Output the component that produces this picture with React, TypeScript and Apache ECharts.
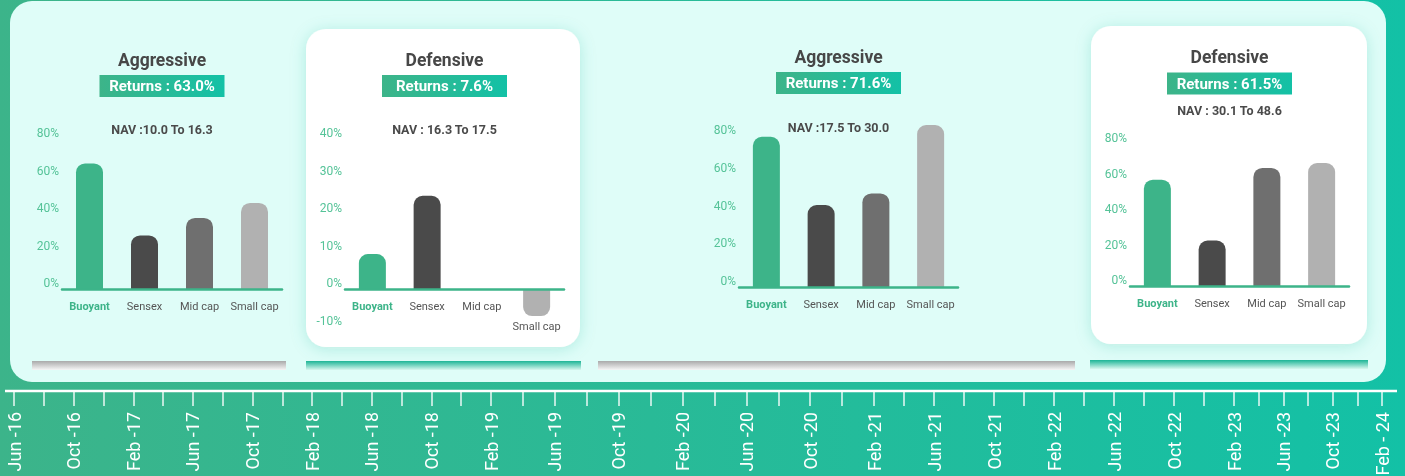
import React, { useEffect, useRef } from 'react';
import * as echarts from 'echarts';

// ---------- data ----------
const categories = ['Buoyant', 'Sensex', 'Mid cap', 'Small cap'];
const panelTitles = ['Aggressive', 'Defensive', 'Aggressive', 'Defensive'];
const returnsPct = [63.0, 7.6, 71.6, 61.5];
const navLabels = ['NAV :10.0 To 16.3', 'NAV : 16.3 To 17.5', 'NAV :17.5 To 30.0', 'NAV : 30.1 To 48.6'];
const panel1Values = [67.0, 28.6, 37.9, 45.9];
const panel2Values = [9.4, 24.9, 0, -7.1];
const panel3Values = [79.6, 43.4, 49.6, 85.8];
const panel4Values = [59.9, 25.6, 66.5, 69.3];
const panelValues = [panel1Values, panel2Values, panel3Values, panel4Values];
const yMin = [0, -10, 0, 0];
const yMax = [80, 40, 80, 80];
const yStep = [20, 10, 20, 20];
const timelineLabels = [
  'Jun -16', 'Oct -16', 'Feb -17', 'Jun -17', 'Oct -17', 'Feb -18', 'Jun -18', 'Oct -18',
  'Feb -19', 'Jun -19', 'Oct -19', 'Feb -20', 'Jun -20', 'Oct -20', 'Feb -21', 'Jun -21',
  'Oct -21', 'Feb -22', 'Jun -22', 'Oct -22', 'Feb -23', 'Jun -23', 'Oct -23', 'Feb - 24',
];
// months since Jun-16 where the timeline segments join
const timelineBreaks = [0, 32, 56, 80, 92];

// ---------- layout / style ----------
const W = 1405;
const H = 476;
const panelGrids = [
  { left: 62, top: 139, width: 220, height: 150 },
  { left: 345, top: 139, width: 219, height: 188 },
  { left: 739, top: 136, width: 219, height: 151 },
  { left: 1130, top: 144, width: 219, height: 142 },
];
const heads = [
  { cx: 162, title: 60, ret: 86, nav: 129.5 },
  { cx: 444.5, title: 59.5, ret: 86, nav: 129.5 },
  { cx: 838.5, title: 57, ret: 83, nav: 127 },
  { cx: 1229.5, title: 57, ret: 83.5, nav: 110 },
];
const cards = [
  { x: 306, y: 29, w: 274, h: 318 },
  { x: 1091, y: 26, w: 276, h: 318 },
];
const footBars = [
  { x: 32, y: 361, w: 254, kind: 'gray' },
  { x: 306, y: 361, w: 275, kind: 'teal' },
  { x: 598, y: 361, w: 477, kind: 'gray' },
  { x: 1090, y: 360, w: 278, kind: 'teal' },
];
const timelinePx = [14, 491, 874, 1234, 1382];
const barColors = ['#3db489', '#4a4a4a', '#6f6f6f', '#b1b1b1'];
const GREEN = '#3db489';
const FONT = 'Roboto, "Noto Sans", sans-serif';

function buildOption() {
  const LG = echarts.graphic.LinearGradient;
  const grid: any[] = [];
  const xAxis: any[] = [];
  const yAxis: any[] = [];
  const series: any[] = [];

  panelGrids.forEach((g, i) => {
    const vals = panelValues[i];
    // move the category axis up to the zero line when the scale goes below zero
    const zeroOffset = -((0 - yMin[i]) / (yMax[i] - yMin[i])) * g.height;
    grid.push({ ...g, containLabel: false, outerBoundsMode: 'none' });
    xAxis.push({
      type: 'category',
      gridIndex: i,
      data: categories,
      position: 'bottom',
      offset: zeroOffset,
      z: 8,
      axisLine: { show: true, onZero: false, lineStyle: { color: GREEN, width: 2.5 } },
      axisTick: { show: false },
      axisLabel: {
        margin: 12,
        interval: 0,
        formatter: (v: string, idx: number) => {
          if (idx === 0) return `{b|${v}}`;
          return vals[idx] < 0 ? `{neg|${v}}` : `{n|${v}}`;
        },
        rich: {
          b: { color: GREEN, fontWeight: 'bold', fontSize: 11, fontFamily: FONT },
          n: { color: '#555555', fontSize: 11, fontFamily: FONT },
          neg: { color: '#555555', fontSize: 11, fontFamily: FONT, padding: [20, 0, 0, 0] },
        },
      },
    });
    yAxis.push({
      type: 'value',
      gridIndex: i,
      min: yMin[i],
      max: yMax[i],
      interval: yStep[i],
      z: 8,
      axisLine: { show: false },
      axisTick: { show: false },
      splitLine: { show: false },
      axisLabel: {
        formatter: '{value}%',
        color: '#55c398',
        fontSize: 12,
        fontFamily: FONT,
        margin: 3,
        verticalAlign: 'bottom',
      },
    });
    series.push({
      type: 'bar',
      xAxisIndex: i,
      yAxisIndex: i,
      barWidth: 27,
      clip: false,
      z: 6,
      data: vals.map((v, k) => ({
        value: v,
        itemStyle: {
          color: barColors[k],
          borderRadius: v < 0 ? [0, 0, 9, 9] : [9, 9, 0, 0],
        },
      })),
    });
  });

  // timeline segments
  for (let s = 0; s < timelineBreaks.length - 1; s++) {
    const gi = grid.length;
    grid.push({
      left: timelinePx[s],
      width: timelinePx[s + 1] - timelinePx[s],
      top: 380,
      height: 11,
      containLabel: false,
      outerBoundsMode: 'none',
    });
    xAxis.push({
      type: 'value',
      gridIndex: gi,
      min: timelineBreaks[s],
      max: timelineBreaks[s + 1],
      interval: 2,
      z: 8,
      axisLine: { show: false },
      splitLine: { show: false },
      axisTick: { show: true, length: 15, lineStyle: { color: 'rgba(255,255,255,0.9)', width: 1.5 } },
      axisLabel: {
        showMinLabel: s === 0,
        showMaxLabel: true,
        rotate: 90,
        margin: 21,
        color: '#ffffff',
        fontSize: 18,
        fontFamily: FONT,
        formatter: (v: number) => {
          const m = Math.round(v);
          return m % 4 === 0 ? timelineLabels[m / 4] || '' : '';
        },
      },
    });
    yAxis.push({ type: 'value', gridIndex: gi, show: false });
  }

  const graphics: any[] = [];
  graphics.push({
    type: 'rect', z: -10, silent: true,
    shape: { x: 0, y: 0, width: W, height: H },
    style: { fill: new LG(0, 0, 1, 0, [{ offset: 0, color: '#3cb48a' }, { offset: 1, color: '#13c1a6' }]) },
  });
  graphics.push({
    type: 'rect', z: -9, silent: true,
    shape: { x: 10, y: 1, width: 1376, height: 381, r: 22 },
    style: { fill: '#dffdf8' },
  });
  cards.forEach((c) => {
    graphics.push({
      type: 'rect', z: -8, silent: true,
      shape: { x: c.x, y: c.y, width: c.w, height: c.h, r: 20 },
      style: { fill: '#ffffff', shadowBlur: 16, shadowColor: 'rgba(40,170,140,0.22)', shadowOffsetY: 2 },
    });
  });
  footBars.forEach((b) => {
    const stops = b.kind === 'gray'
      ? [{ offset: 0, color: '#aaaaaa' }, { offset: 1, color: '#f6f6f6' }]
      : [{ offset: 0, color: '#1db596' }, { offset: 1, color: '#d8f7ef' }];
    graphics.push({
      type: 'rect', z: -7, silent: true,
      shape: { x: b.x, y: b.y, width: b.w, height: 9 },
      style: { fill: new LG(0, 0, 0, 1, stops) },
    });
  });
  heads.forEach((h, i) => {
    graphics.push({
      type: 'text', z: 10, silent: true,
      x: h.cx, y: h.title,
      style: {
        text: panelTitles[i], fill: '#474747', fontSize: 17.5, fontWeight: 'bold', fontFamily: FONT,
        align: 'center', verticalAlign: 'middle', textAlign: 'center', textVerticalAlign: 'middle',
      },
    });
    graphics.push({
      type: 'rect', z: 9, silent: true,
      shape: { x: h.cx - 62.5, y: h.ret - 11, width: 125, height: 22 },
      style: { fill: new LG(0, 0, 1, 0, [{ offset: 0, color: '#3db489' }, { offset: 1, color: '#13c1a6' }]) },
    });
    graphics.push({
      type: 'text', z: 10, silent: true,
      x: h.cx, y: h.ret,
      style: {
        text: `Returns : ${returnsPct[i].toFixed(1)}%`, fill: '#ffffff', fontSize: 15, fontWeight: 'bold', fontFamily: FONT,
        align: 'center', verticalAlign: 'middle', textAlign: 'center', textVerticalAlign: 'middle',
      },
    });
    graphics.push({
      type: 'text', z: 10, silent: true,
      x: h.cx, y: h.nav,
      style: {
        text: navLabels[i], fill: '#4a4a4a', fontSize: 12.5, fontWeight: 'bold', fontFamily: FONT,
        align: 'center', verticalAlign: 'middle', textAlign: 'center', textVerticalAlign: 'middle',
      },
    });
  });
  graphics.push({
    type: 'line', z: 10, silent: true,
    shape: { x1: 5, y1: 391, x2: 1397, y2: 391 },
    style: { stroke: '#ffffff', lineWidth: 2.5 },
  });

  return {
    animation: false,
    backgroundColor: 'transparent',
    grid,
    xAxis,
    yAxis,
    series,
    graphic: { elements: graphics },
  };
}

export default function App() {
  const ref = useRef<HTMLDivElement>(null);
  useEffect(() => {
    if (!ref.current) return;
    const chart = echarts.init(ref.current, undefined, { renderer: 'svg', width: W, height: H });
    chart.setOption(buildOption() as any);
    return () => chart.dispose();
  }, []);
  return (
    <div
      ref={ref}
      style={{ position: 'fixed', left: 0, top: 0, width: W, height: H }}
    />
  );
}
